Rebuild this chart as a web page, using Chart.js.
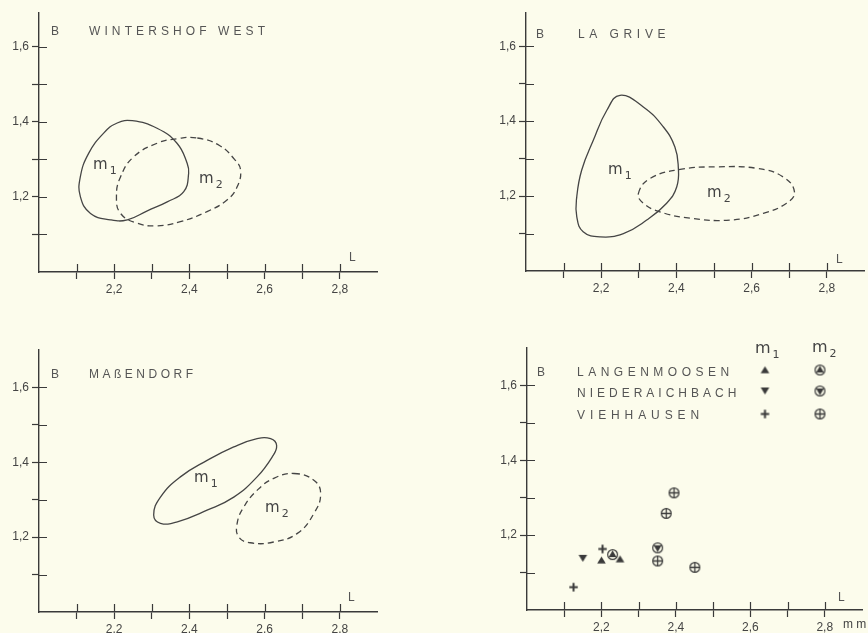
<!DOCTYPE html>
<html>
<head>
<meta charset="utf-8">
<script src="https://cdn.jsdelivr.net/npm/chart.js@4.4.0/dist/chart.umd.min.js"></script>
<style>
  html, body { margin: 0; padding: 0; background: #fcfcec; }
  #page { position: relative; width: 868px; height: 633px; overflow: hidden; font-family: "Liberation Sans", Arial, sans-serif; }
  #page canvas { position: absolute; }
  .t { position: absolute; white-space: nowrap; line-height: 1; font-size: 12px; color: #555; }
  .m { position: absolute; white-space: nowrap; line-height: 1; font-family: "DejaVu Sans", sans-serif; font-size: 15px; color: #444; }
  .m span { font-size: 11px; position: relative; top: 5px; margin-left: 2px; }
  .big { font-size: 16px; }
</style>
</head>
<body>
<div id="page">
  <canvas id="c-wint" width="434" height="316" style="left:0;top:0"></canvas>
  <canvas id="c-grive" width="434" height="316" style="left:434px;top:0"></canvas>
  <canvas id="c-mass" width="434" height="317" style="left:0;top:316px"></canvas>
  <canvas id="c-sites" width="434" height="317" style="left:434px;top:316px"></canvas>

  <div class="t" style="left:51px;top:25px">B</div>
  <div class="t" style="left:89px;top:24.5px;letter-spacing:4.1px">WINTERSHOF WEST</div>
  <div class="t" style="left:349px;top:250.5px">L</div>
  <div class="m" style="left:93px;top:157px">m<span>1</span></div>
  <div class="m" style="left:199px;top:171px">m<span>2</span></div>

  <div class="t" style="left:536px;top:28px">B</div>
  <div class="t" style="left:578px;top:27.5px;letter-spacing:4.7px">LA GRIVE</div>
  <div class="t" style="left:836px;top:253px">L</div>
  <div class="m" style="left:608px;top:162px">m<span>1</span></div>
  <div class="m" style="left:707px;top:185px">m<span>2</span></div>

  <div class="t" style="left:51px;top:368px">B</div>
  <div class="t" style="left:89px;top:367.5px;letter-spacing:3.5px">MAßENDORF</div>
  <div class="t" style="left:348px;top:591px">L</div>
  <div class="m" style="left:194px;top:470px">m<span>1</span></div>
  <div class="m" style="left:265px;top:500px">m<span>2</span></div>

  <div class="t" style="left:537px;top:366px">B</div>
  <div class="t" id="leg0" style="left:577px;top:365.5px;letter-spacing:4.5px"></div>
  <div class="t" id="leg1" style="left:577px;top:386.5px;letter-spacing:4.0px"></div>
  <div class="t" id="leg2" style="left:577px;top:409px;letter-spacing:4.9px"></div>
  <div class="m big" style="left:755px;top:340px">m<span>1</span></div>
  <div class="m big" style="left:812px;top:339px">m<span>2</span></div>
  <div class="t" style="left:838px;top:591px">L</div>
  <div class="t" style="left:843px;top:618px;color:#444">m m</div>
</div>

<script>
"use strict";

// ---- data (L = length, B = breadth, mm) ----
const lTicks = [2.1, 2.2, 2.3, 2.4, 2.5, 2.6, 2.7, 2.8];
const bTicks = [1.1, 1.2, 1.3, 1.4, 1.5, 1.6];

// outlines of the m1 / m2 fields, one L list and one B list each
const wintM1L = [2.248, 2.314, 2.367, 2.394, 2.398, 2.385, 2.341, 2.288, 2.235, 2.190, 2.137, 2.110, 2.110, 2.132, 2.172, 2.208];
const wintM1B = [1.403, 1.383, 1.343, 1.290, 1.263, 1.214, 1.187, 1.163, 1.139, 1.139, 1.156, 1.201, 1.254, 1.316, 1.370, 1.397];
const wintM2L = [2.421, 2.480, 2.520, 2.536, 2.527, 2.500, 2.447, 2.376, 2.314, 2.261, 2.217, 2.206, 2.217, 2.252, 2.314, 2.367];
const wintM2B = [1.357, 1.337, 1.300, 1.272, 1.227, 1.192, 1.161, 1.134, 1.123, 1.130, 1.156, 1.201, 1.254, 1.307, 1.343, 1.355];

const griveM1L = [2.250, 2.312, 2.365, 2.396, 2.405, 2.401, 2.374, 2.321, 2.259, 2.197, 2.152, 2.135, 2.135, 2.148, 2.179, 2.215];
const griveM1B = [1.469, 1.438, 1.385, 1.331, 1.278, 1.225, 1.181, 1.136, 1.100, 1.091, 1.105, 1.145, 1.198, 1.269, 1.349, 1.429];
const griveM2L = [2.299, 2.330, 2.410, 2.507, 2.614, 2.684, 2.714, 2.693, 2.631, 2.543, 2.436, 2.356, 2.312];
const griveM2B = [1.207, 1.247, 1.271, 1.278, 1.274, 1.251, 1.211, 1.181, 1.154, 1.136, 1.141, 1.158, 1.181];

const massM1L = [2.616, 2.580, 2.518, 2.447, 2.376, 2.323, 2.305, 2.323, 2.368, 2.447, 2.518, 2.580, 2.620, 2.632];
const massM1B = [1.463, 1.463, 1.441, 1.405, 1.361, 1.307, 1.259, 1.237, 1.241, 1.272, 1.307, 1.361, 1.414, 1.445];
const massM2L = [2.678, 2.731, 2.749, 2.731, 2.687, 2.624, 2.562, 2.531, 2.527, 2.545, 2.580, 2.624];
const massM2B = [1.370, 1.352, 1.316, 1.263, 1.210, 1.187, 1.185, 1.201, 1.237, 1.281, 1.325, 1.357];

// single finds, bottom-right panel
const siteNames = ["LANGENMOOSEN", "NIEDERAICHBACH", "VIEHHAUSEN"];
const langM1L = [2.200, 2.250];
const langM1B = [1.133, 1.136];
const langM2L = [2.230];
const langM2B = [1.148];
const niedM1L = [2.150];
const niedM1B = [1.138];
const niedM2L = [2.351];
const niedM2B = [1.166];
const viehM1L = [2.125, 2.203];
const viehM1B = [1.061, 1.163];
const viehM2L = [2.351, 2.374, 2.395, 2.451];
const viehM2B = [1.131, 1.258, 1.313, 1.114];

// ---- drawing helpers ----
const ink = "#3a3a3a";
const dashed = [6, 4];
const fmt = (v) => v.toFixed(1).replace(".", ",");
const pts = (L, B) => L.map((x, i) => ({ x, y: B[i] }));

// small canvases used as point styles (and for the key)
function symbol(kind) {
  const c = document.createElement("canvas");
  c.width = 13; c.height = 13;
  const g = c.getContext("2d");
  const cx = 6.5, cy = 6.5;
  g.fillStyle = ink; g.strokeStyle = ink;
  const tri = (p) => { g.beginPath(); g.moveTo(p[0], p[1]); g.lineTo(p[2], p[3]); g.lineTo(p[4], p[5]); g.closePath(); g.fill(); };
  if (kind.startsWith("ring")) {
    g.lineWidth = 1.2;
    g.beginPath(); g.arc(cx, cy, 4.9, 0, Math.PI * 2); g.stroke();
  }
  if (kind === "up") tri([cx, cy - 3.8, cx + 4.3, cy + 3.2, cx - 4.3, cy + 3.2]);
  if (kind === "down") tri([cx - 4.3, cy - 3.4, cx + 4.3, cy - 3.4, cx, cy + 3.6]);
  if (kind === "ringUp") tri([cx, cy - 4.2, cx + 3.9, cy + 2.4, cx - 3.9, cy + 2.4]);
  if (kind === "ringDown") tri([cx - 3.9, cy - 2.4, cx + 3.9, cy - 2.4, cx, cy + 4.2]);
  if (kind === "plus" || kind === "ringPlus") {
    const r = kind === "plus" ? 4.2 : 4.9;
    g.lineWidth = kind === "plus" ? 2 : 1.3;
    g.beginPath();
    g.moveTo(cx - r, cy); g.lineTo(cx + r, cy);
    g.moveTo(cx, cy - r); g.lineTo(cx, cy + r);
    g.stroke();
  }
  return c;
}
const sym = {};
["up", "down", "plus", "ringUp", "ringDown", "ringPlus"].forEach((k) => (sym[k] = symbol(k)));

// Chart.js has no "closed" option for line datasets; flag the element as a loop
// so the spline wraps round smoothly instead of ending at the first point.
const closeLoops = {
  id: "closeLoops",
  afterDatasetUpdate(chart, args) {
    if (chart.data.datasets[args.index].closed && args.meta.dataset) {
      args.meta.dataset._loop = true;
      args.meta.dataset._fullLoop = true;
    }
  },
};

// tick marks cross the axis: Chart.js draws the outer half, this adds the inner half
const innerTicks = {
  id: "innerTicks",
  afterDraw(chart) {
    const { ctx, chartArea: a, scales } = chart;
    ctx.save();
    ctx.strokeStyle = ink;
    ctx.lineWidth = 1.2;
    ctx.beginPath();
    for (const t of scales.x.ticks) {
      const px = Math.round(scales.x.getPixelForValue(t.value)) + 0.5;
      ctx.moveTo(px, a.bottom); ctx.lineTo(px, a.bottom - 8);
    }
    for (const t of scales.y.ticks) {
      const py = Math.round(scales.y.getPixelForValue(t.value)) + 0.5;
      ctx.moveTo(a.left, py); ctx.lineTo(a.left + 8, py);
    }
    ctx.stroke();
    ctx.restore();
  },
};

function outline(L, B, dash) {
  return {
    data: pts(L, B), closed: true, showLine: true,
    borderColor: "#454545", borderWidth: 1.3, borderDash: dash || [],
    pointRadius: 0, tension: 0.45, fill: false,
  };
}
function finds(L, B, style) {
  return { data: pts(L, B), showLine: false, pointStyle: style, pointRadius: 5 };
}

// box = canvas placement on the page, area = wanted chart area on the page
function panel(id, box, area, bMax, datasets, extra) {
  const font = { family: "'Liberation Sans', Arial, sans-serif", size: 12 };
  const axis = (min, max, tickVals, fitKey, fitVal) => ({
    type: "linear", min, max,
    afterFit: (s) => { s[fitKey] = fitVal; },
    afterBuildTicks: (s) => { s.ticks = tickVals.map((v) => ({ value: v })); },
    grid: { drawOnChartArea: false, tickLength: 7, tickColor: ink, tickWidth: 1.2 },
    border: { color: ink, width: 1.4 },
    ticks: {
      padding: 3, color: "#444", font, autoSkip: false, maxRotation: 0,
      callback: (v) => (Math.round(v * 10) % 2 === 0 ? fmt(v) : ""),
    },
  });
  return new Chart(document.getElementById(id), {
    type: "line",
    data: { datasets },
    options: {
      responsive: false, animation: false, events: [],
      layout: {
        padding: { left: 0, bottom: 0, top: area.top - box.top, right: box.left + box.w - area.right },
      },
      plugins: { legend: { display: false }, tooltip: { enabled: false } },
      scales: {
        x: axis(2.0, 2.9, lTicks, "height", box.top + box.h - area.bottom),
        y: axis(1.0, bMax, bTicks, "width", area.left - box.left),
      },
    },
    plugins: [closeLoops, innerTicks].concat(extra || []),
  });
}

// key of the bottom-right panel, drawn with the same symbols as the points
const siteKey = {
  id: "siteKey",
  afterDraw(chart) {
    const rows = [["up", "ringUp"], ["down", "ringDown"], ["plus", "ringPlus"]];
    const rowY = [54, 75, 98];
    rows.forEach((r, i) => {
      chart.ctx.drawImage(sym[r[0]], 331 - 6.5, rowY[i] - 6.5);
      chart.ctx.drawImage(sym[r[1]], 386 - 6.5, rowY[i] - 6.5);
    });
  },
};

panel("c-wint", { left: 0, top: 0, w: 434, h: 316 }, { left: 39, top: 13, right: 377.4, bottom: 272 }, 1.69,
  [outline(wintM1L, wintM1B), outline(wintM2L, wintM2B, dashed)]);
panel("c-grive", { left: 434, top: 0, w: 434, h: 316 }, { left: 526, top: 12.5, right: 864.4, bottom: 271 }, 1.69,
  [outline(griveM1L, griveM1B), outline(griveM2L, griveM2B, dashed)]);
panel("c-mass", { left: 0, top: 316, w: 434, h: 317 }, { left: 39, top: 350, right: 377.4, bottom: 612 }, 1.70,
  [outline(massM1L, massM1B), outline(massM2L, massM2B, dashed)]);
panel("c-sites", { left: 434, top: 316, w: 434, h: 317 }, { left: 527, top: 348, right: 865.4, bottom: 610 }, 1.70,
  [
    finds(langM1L, langM1B, sym.up), finds(niedM1L, niedM1B, sym.down), finds(viehM1L, viehM1B, sym.plus),
    finds(langM2L, langM2B, sym.ringUp), finds(niedM2L, niedM2B, sym.ringDown), finds(viehM2L, viehM2B, sym.ringPlus),
  ], [siteKey]);

siteNames.forEach((n, i) => (document.getElementById("leg" + i).textContent = n));
</script>
</body>
</html>
